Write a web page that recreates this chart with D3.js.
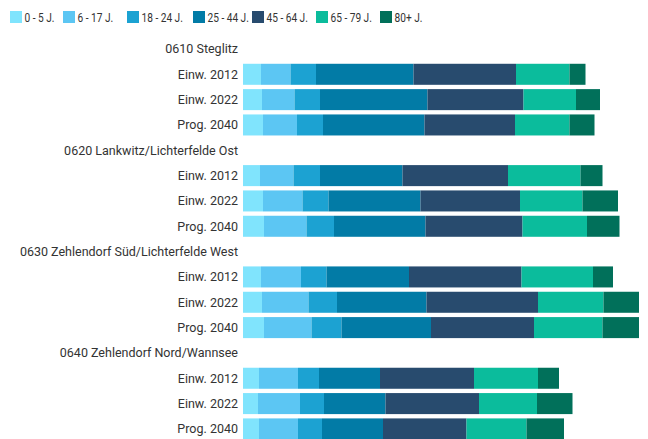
<!DOCTYPE html>
<html>
<head>
<meta charset="utf-8">
<script src="https://cdn.jsdelivr.net/npm/d3@7"></script>
<style>
  body { margin: 0; background: #fff; }
  text { font-family: Roboto, "Noto Sans", sans-serif; }
</style>
</head>
<body>
<svg id="chart" width="648" height="439"></svg>
<script>
// age groups (legend) and colours
const ageGroups = ['0 - 5 J.', '6 - 17 J.', '18 - 24 J.', '25 - 44 J.', '45 - 64 J.', '65 - 79 J.', '80+ J.'];
const colors = ['#80e4fd', '#5cc6f3', '#1ca2d2', '#027ba6', '#284b6e', '#0bbc9c', '#01705a'];

const regions = ['0610 Steglitz', '0620 Lankwitz/Lichterfelde Ost', '0630 Zehlendorf Süd/Lichterfelde West', '0640 Zehlendorf Nord/Wannsee'];
const periods = ['Einw. 2012', 'Einw. 2022', 'Prog. 2040'];

// inhabitants per age group, one array per region, rows = periods
const steglitz = [
  [3600, 5900, 5100, 19500, 20500, 10700, 3200],
  [3800, 6500, 5100, 21500, 19200, 10500, 4800],
  [4000, 6800, 5200, 20300, 18100, 10900, 5000]
];
const lankwitz = [
  [3400, 6700, 5300, 16500, 21100, 14500, 4400],
  [4000, 7900, 5200, 18400, 19900, 12500, 7100],
  [4200, 8500, 5500, 18300, 19400, 12900, 6500]
];
const zehlendorfSued = [
  [3600, 8000, 5100, 16500, 22500, 14300, 4000],
  [3800, 9300, 5700, 17900, 22300, 13100, 7100],
  [4200, 9500, 6000, 17900, 20600, 13700, 7300]
];
const zehlendorfNord = [
  [3200, 7800, 4200, 12200, 18800, 12800, 4200],
  [3000, 8400, 4800, 12300, 18700, 11600, 7100],
  [3200, 7800, 4800, 12200, 16700, 12000, 7500]
];
const regionValues = [steglitz, lankwitz, zehlendorfSued, zehlendorfNord];

// build rows: header row per region followed by its three bars
const rows = [];
regions.forEach((r, i) => {
  rows.push({ id: 'h' + i, label: r, header: true });
  periods.forEach((p, j) => {
    rows.push({ id: 'r' + i + '_' + j, label: p, header: false, values: regionValues[i][j] });
  });
});

const svg = d3.select('#chart');
const left = 243;

const y = d3.scaleBand()
  .domain(rows.map(d => d.id))
  .range([36.3, 36.3 + rows.length * 25.33])
  .paddingInner(0.17)
  .paddingOuter(0.085);

const x = d3.scaleLinear()
  .domain([0, 100000])
  .range([left, left + 500]);

const color = d3.scaleOrdinal().domain(ageGroups).range(colors);

// legend (narrow text like the original)
const legendX = [10, 63, 127, 193, 252, 316, 380];
const legend = svg.append('g').attr('class', 'legend');
ageGroups.forEach((a, i) => {
  const g = legend.append('g').attr('transform', 'translate(' + legendX[i] + ',11)');
  g.append('rect').attr('width', 12).attr('height', 12).attr('fill', color(a));
  g.append('text')
    .attr('transform', 'translate(14.5,6.5) scale(0.78,1)')
    .attr('dy', '0.35em')
    .attr('font-size', 13).attr('fill', '#333').text(a);
});

// row labels
svg.append('g').selectAll('text')
  .data(rows)
  .enter()
  .append('text')
  .attr('x', 238)
  .attr('y', d => y(d.id) + y.bandwidth() / 2)
  .attr('dy', '0.35em')
  .attr('text-anchor', 'end')
  .attr('font-size', 12.5)
  .attr('fill', '#333')
  .text(d => d.label);

// stacked bars
const barRows = rows.filter(d => !d.header);
const stack = d3.stack()
  .keys(d3.range(ageGroups.length))
  .value((d, k) => d.values[k]);
const series = stack(barRows);

svg.append('g').selectAll('g')
  .data(series)
  .enter()
  .append('g')
  .attr('fill', d => colors[d.key])
  .selectAll('rect')
  .data(d => d)
  .enter()
  .append('rect')
  .attr('x', d => x(d[0]))
  .attr('width', d => x(d[1]) - x(d[0]))
  .attr('y', d => y(d.data.id))
  .attr('height', y.bandwidth());
</script>
</body>
</html>
